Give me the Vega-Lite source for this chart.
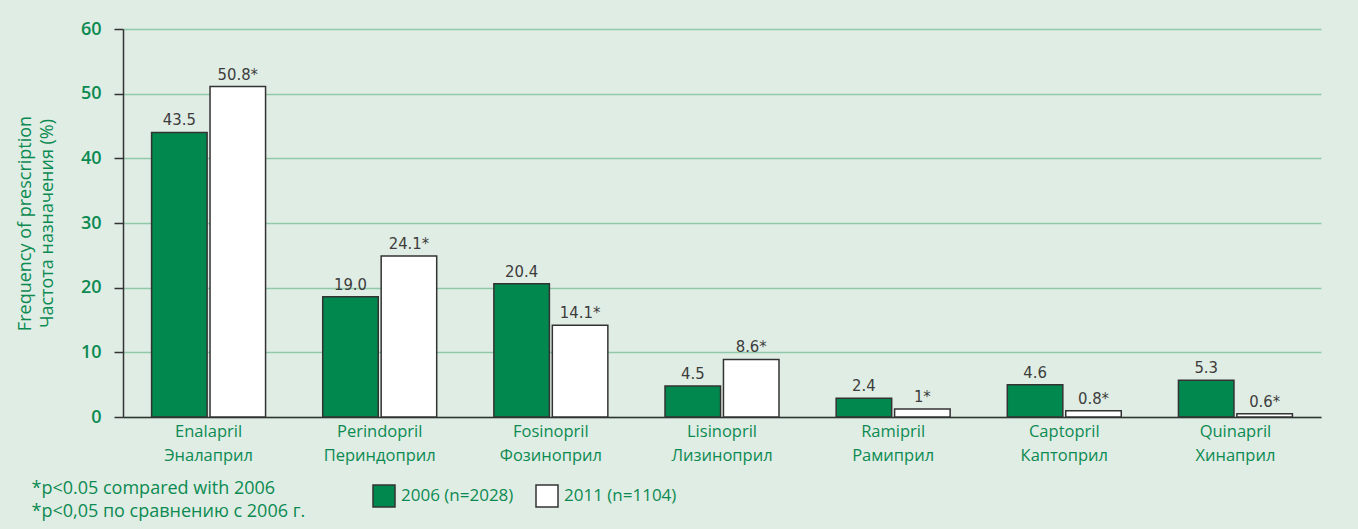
{
  "$schema": "https://vega.github.io/schema/vega-lite/v6.json",
  "autosize": {"type": "none"},
  "width": 1198,
  "height": 388,
  "padding": {"left": 123, "top": 29, "right": 37, "bottom": 112},
  "background": "#e0ede4",
  "config": {
    "view": {"stroke": null},
    "font": "Open Sans"
  },
  "data": {
    "values": [
      {"drug": "Enalapril|Эналаприл", "year": "2006 (n=2028)", "value": 44.0, "label": "43.5"},
      {"drug": "Enalapril|Эналаприл", "year": "2011 (n=1104)", "value": 51.1, "label": "50.8*"},
      {"drug": "Perindopril|Периндоприл", "year": "2006 (n=2028)", "value": 18.6, "label": "19.0"},
      {"drug": "Perindopril|Периндоприл", "year": "2011 (n=1104)", "value": 24.9, "label": "24.1*"},
      {"drug": "Fosinopril|Фозиноприл", "year": "2006 (n=2028)", "value": 20.6, "label": "20.4"},
      {"drug": "Fosinopril|Фозиноприл", "year": "2011 (n=1104)", "value": 14.2, "label": "14.1*"},
      {"drug": "Lisinopril|Лизиноприл", "year": "2006 (n=2028)", "value": 4.8, "label": "4.5"},
      {"drug": "Lisinopril|Лизиноприл", "year": "2011 (n=1104)", "value": 8.9, "label": "8.6*"},
      {"drug": "Ramipril|Рамиприл", "year": "2006 (n=2028)", "value": 2.9, "label": "2.4"},
      {"drug": "Ramipril|Рамиприл", "year": "2011 (n=1104)", "value": 1.25, "label": "1*"},
      {"drug": "Captopril|Каптоприл", "year": "2006 (n=2028)", "value": 5.0, "label": "4.6"},
      {"drug": "Captopril|Каптоприл", "year": "2011 (n=1104)", "value": 0.95, "label": "0.8*"},
      {"drug": "Quinapril|Хинаприл", "year": "2006 (n=2028)", "value": 5.7, "label": "5.3"},
      {"drug": "Quinapril|Хинаприл", "year": "2011 (n=1104)", "value": 0.5, "label": "0.6*"}
    ]
  },
  "encoding": {
    "x": {
      "field": "drug",
      "type": "nominal",
      "sort": null,
      "scale": {"paddingInner": 0.334, "paddingOuter": 0.167},
      "axis": {
        "title": ["*p<0.05 compared with 2006", "*p<0,05 по сравнению с 2006 г."],
        "titleX": -92,
        "titleY": 62,
        "titleAlign": "left",
        "titleAnchor": "start",
        "titleBaseline": "top",
        "titleFont": "Open Sans",
        "titleFontSize": 18,
        "titleFontWeight": "normal",
        "titleColor": "#0c8a52",
        "titleLineHeight": 23,
        "labelExpr": "split(datum.label, '|')",
        "labelAngle": 0,
        "labelFontSize": 16.5,
        "labelColor": "#0c8a52",
        "labelLineHeight": 24,
        "labelPadding": 6,
        "ticks": false,
        "domainColor": "#333333",
        "domainWidth": 1.5
      }
    },
    "xOffset": {
      "field": "year",
      "type": "nominal",
      "scale": {"paddingInner": 0.05, "paddingOuter": 0}
    },
    "y": {
      "field": "value",
      "type": "quantitative",
      "scale": {"domain": [0, 60], "nice": false},
      "axis": {
        "values": [0, 10, 20, 30, 40, 50, 60],
        "title": ["Frequency of prescription", "Частота назначения (%)"],
        "titleFontSize": 18,
        "titleFontWeight": "normal",
        "titleColor": "#0c8a52",
        "titleLineHeight": 22,
        "titlePadding": 24,
        "labelFontSize": 18,
        "labelFontWeight": 600,
        "labelColor": "#0c8a52",
        "labelPadding": 13,
        "tickSize": 9,
        "tickColor": "#333333",
        "tickWidth": 1.5,
        "domainColor": "#333333",
        "domainWidth": 1.5,
        "grid": true,
        "gridColor": "#8fc9a9",
        "gridWidth": 1.5
      }
    }
  },
  "layer": [
    {
      "mark": {"type": "bar", "stroke": "#333333", "strokeWidth": 1.5},
      "encoding": {
        "color": {
          "field": "year",
          "type": "nominal",
          "scale": {"domain": ["2006 (n=2028)", "2011 (n=1104)"], "range": ["#00884f", "#ffffff"]},
          "legend": {
            "title": null,
            "orient": "none",
            "legendX": 249,
            "legendY": 455,
            "direction": "horizontal",
            "symbolType": "square",
            "symbolSize": 484,
            "symbolStrokeColor": "#333333",
            "symbolStrokeWidth": 1.5,
            "symbolOpacity": 1,
            "labelFontSize": 17,
            "labelFontWeight": "normal",
            "labelColor": "#0c8a52",
            "labelFont": "Open Sans",
            "columnPadding": 19,
            "labelOffset": 5
          }
        }
      }
    },
    {
      "mark": {"type": "text", "baseline": "bottom", "dy": -4, "fontSize": 16.5, "font": "DejaVu Sans Condensed", "fill": "#3c3c3c"},
      "encoding": {
        "text": {"field": "label"}
      }
    }
  ]
}
